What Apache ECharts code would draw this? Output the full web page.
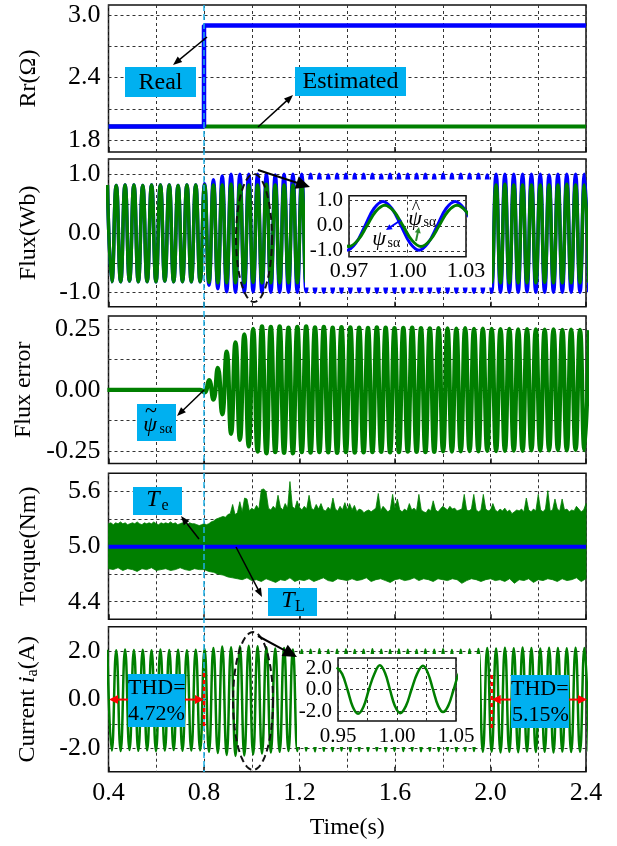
<!DOCTYPE html>
<html><head><meta charset="utf-8">
<script src="https://cdn.jsdelivr.net/npm/echarts@6/dist/echarts.min.js"></script>
<style>html,body{margin:0;padding:0;background:#fff}#c{width:617px;height:846px}</style>
</head><body><div id="c"></div>
<script>
// ---------------- DATA ----------------
const xTickLabels = [0.4, 0.8, 1.2, 1.6, 2.0, 2.4];
const rrGridVals = [1.8, 2.1, 2.4, 2.7, 3.0], rrLabels = [1.8, 2.4, 3.0];
const fluxGridVals = [-1, -0.5, 0, 0.5, 1], fluxLabels = [-1, 0, 1];
const errGridVals = [-0.25, -0.125, 0, 0.125, 0.25], errLabels = [-0.25, 0, 0.25];
const tqGridVals = [4.4, 4.7, 5.0, 5.3, 5.6], tqLabels = [4.4, 5.0, 5.6];
const curGridVals = [-2, -1, 0, 1, 2], curLabels = [-2, 0, 2];

// Rr panel (step change at 0.8 s)
const rrRealT = [0.4, 0.8, 0.8, 2.4];
const rrReal = [1.93, 1.93, 2.9, 2.9];
const rrEstT = [0.4, 2.4];
const rrEst = [1.93, 1.93];

// oscillating signals: value read at each half-period peak (time base below)
const waveT0 = 0.3954, waveHalf = 0.0185;
const fluxReal = [
 0.82,-0.82,0.81,-0.82,0.82,-0.81,0.82,-0.82,0.81,-0.82,
 0.82,-0.82,0.82,-0.81,0.82,-0.82,0.81,-0.82,0.82,-0.82,
 0.82,-0.82,0.84,-0.88,0.91,-0.94,0.97,-0.99,1.0,-1.0,
 1.0,-1.0,1.0,-0.99,1.0,-1.0,1.0,-1.0,0.99,-1.0,
 1.0,-1.0,1.0,-1.0,1.0,-0.99,1.0,-1.0,1.0,-1.0,
 0.99,-1.0,1.0,-1.0,1.0,-1.0,1.0,-0.99,1.0,-1.0,
 1.0,-1.0,0.99,-1.0,1.0,-1.0,1.0,-1.0,1.0,-0.99,
 1.0,-1.0,1.0,-1.0,0.99,-1.0,1.0,-1.0,1.0,-1.0,
 1.0,-0.99,1.0,-1.0,1.0,-1.0,0.99,-1.0,1.0,-1.0,
 1.0,-1.0,1.0,-1.0,1.0,-0.99,1.0,-1.0,1.0,-1.0,
 0.99,-1.0,1.0,-1.0,1.0,-1.0,1.0,-1.0,1.0,-1.0
];
const fluxEst = [
 0.82,-0.82,0.81,-0.82,0.82,-0.81,0.82,-0.82,0.81,-0.82,
 0.82,-0.82,0.82,-0.81,0.82,-0.82,0.81,-0.82,0.82,-0.82,
 0.82,-0.82,0.82,-0.83,0.82,-0.84,0.82,-0.84,0.83,-0.84,
 0.82,-0.84,0.82,-0.83,0.82,-0.84,0.83,-0.84,0.82,-0.84,
 0.82,-0.84,0.82,-0.84,0.83,-0.83,0.82,-0.84,0.82,-0.84,
 0.82,-0.83,0.82,-0.84,0.82,-0.84,0.83,-0.84,0.82,-0.84,
 0.82,-0.84,0.82,-0.83,0.82,-0.84,0.82,-0.84,0.83,-0.84,
 0.82,-0.84,0.82,-0.84,0.82,-0.83,0.82,-0.84,0.83,-0.84,
 0.82,-0.84,0.82,-0.84,0.82,-0.84,0.82,-0.83,0.82,-0.84,
 0.83,-0.84,0.82,-0.84,0.82,-0.84,0.82,-0.84,0.82,-0.83,
 0.82,-0.84,0.82,-0.84,0.83,-0.84,0.82,-0.84,0.82,-0.84
];
const fluxErr = [
 0,0,0,0,0,0,0,0,0,0,
 0,0,0,0,0,0,0,0,0,0,
 0,0,-0.01,0.04,-0.04,0.09,-0.10,0.157,-0.18,0.195,
 -0.205,0.228,-0.232,0.25,-0.253,0.26,-0.26,0.258,-0.255,0.26,
 -0.258,0.255,-0.26,0.258,-0.255,0.26,-0.257,0.256,-0.255,0.258,
 -0.256,0.255,-0.258,0.257,-0.255,0.256,-0.257,0.255,-0.256,0.254,
 -0.255,0.256,-0.254,0.255,-0.256,0.253,-0.255,0.254,-0.253,0.255,
 -0.254,0.253,-0.255,0.252,-0.254,0.253,-0.252,0.252,-0.253,0.251,
 -0.252,0.253,-0.251,0.25,-0.252,0.251,-0.25,0.25,-0.251,0.249,
 -0.25,0.25,-0.249,0.248,-0.25,0.249,-0.248,0.248,-0.249,0.247,
 -0.248,0.248,-0.247,0.246,-0.248,0.247,-0.246,0.246,-0.247,0.245
];
const current = [
 2.05,-2.10,2.03,-2.12,2.06,-2.08,2.04,-2.11,2.05,-2.09,
 2.03,-2.12,2.06,-2.10,2.04,-2.08,2.05,-2.11,2.03,-2.10,
 2.05,-2.09,2.08,-2.15,2.12,-2.20,2.18,-2.28,2.15,-2.32,
 2.20,-2.30,2.22,-2.25,2.20,-2.22,2.15,-2.18,2.10,-2.15,
 2.12,-2.12,2.06,-2.12,2.04,-2.10,2.05,-2.13,2.07,-2.11,
 2.04,-2.12,2.05,-2.10,2.06,-2.13,2.04,-2.11,2.05,-2.12,
 2.07,-2.10,2.05,-2.13,2.04,-2.11,2.06,-2.12,2.05,-2.10,
 2.04,-2.13,2.06,-2.11,2.05,-2.12,2.07,-2.10,2.04,-2.13,
 2.05,-2.11,2.06,-2.12,2.08,-2.15,2.12,-2.14,2.10,-2.18,
 2.13,-2.15,2.11,-2.17,2.14,-2.14,2.12,-2.16,2.10,-2.15,
 2.13,-2.18,2.12,-2.14,2.11,-2.16,2.13,-2.15,2.12,-2.14
];

// torque band: upper envelope every 0.01 s, lower envelope every 0.02 s
const tqT0 = 0.4, tqHiStep = 0.01, tqLoStep = 0.02;
const tqHi = [
 5.25,5.26,5.24,5.26,5.25,5.27,5.25,5.26,5.24,5.25,5.26,5.25,5.27,5.25,5.24,5.26,5.25,5.26,5.25,5.27,
 5.25,5.24,5.26,5.25,5.26,5.25,5.27,5.25,5.26,5.24,5.25,5.26,5.25,5.24,5.26,5.25,5.25,5.24,5.23,5.24,5.25,
 5.24,5.25,5.27,5.28,5.30,5.31,5.32,5.33,5.32,5.35,
 5.36,5.46,5.35,5.37,5.49,5.38,5.53,5.52,5.39,5.42,
 5.40,5.45,5.41,5.62,5.63,5.60,5.42,5.40,5.44,5.41,
 5.56,5.43,5.40,5.47,5.42,5.71,5.44,5.41,5.50,5.43,
 5.40,5.44,5.41,5.56,5.42,5.40,5.46,5.41,5.47,5.40,
 5.39,5.43,5.40,5.53,5.41,5.39,5.44,5.40,5.48,5.40,
 5.47,5.40,5.45,5.38,5.41,5.40,5.37,5.39,5.40,5.38,
 5.40,5.42,5.58,5.39,5.44,5.41,5.38,5.40,5.57,5.42,
 5.52,5.40,5.38,5.41,5.39,5.47,5.40,5.42,5.39,5.57,
 5.40,5.38,5.37,5.41,5.39,5.50,5.40,5.38,5.41,5.44,
 5.42,5.40,5.44,5.41,5.42,5.39,5.40,5.41,5.57,5.40,
 5.39,5.41,5.57,5.40,5.38,5.40,5.57,5.41,5.39,5.40,
 5.47,5.40,5.38,5.41,5.39,5.42,5.38,5.40,5.36,5.38,
 5.40,5.39,5.41,5.38,5.53,5.40,5.38,5.41,5.39,5.57,
 5.40,5.38,5.41,5.61,5.39,5.40,5.52,5.41,5.39,5.52,
 5.40,5.41,5.38,5.40,5.39,5.44,5.41,5.38,5.40,5.47
];
const tqLo = [
 4.76,4.75,4.77,4.74,4.76,4.75,4.73,4.76,4.75,4.77,4.74,4.75,4.76,4.74,4.75,4.77,4.75,4.74,4.76,4.75,4.75,
 4.73,4.72,4.70,4.69,4.67,4.66,4.65,4.64,4.66,4.63,
 4.64,4.62,4.65,4.63,4.61,4.64,4.63,4.66,4.62,4.64,
 4.63,4.65,4.62,4.64,4.66,4.63,4.62,4.65,4.64,4.63,
 4.65,4.63,4.64,4.66,4.62,4.64,4.65,4.63,4.61,4.64,
 4.65,4.63,4.64,4.66,4.63,4.65,4.64,4.62,4.65,4.64,
 4.63,4.65,4.64,4.60,4.63,4.65,4.64,4.62,4.64,4.65,
 4.63,4.64,4.62,4.65,4.60,4.64,4.63,4.65,4.61,4.64,
 4.63,4.65,4.64,4.62,4.65,4.63,4.64,4.66,4.62,4.65
];
const tqRefT = [0.4, 2.4], tqRef = [5.0, 5.0];

// inset: flux 0.97-1.03 s
const insetFluxXTicks = [0.97, 1.0, 1.03], insetFluxYTicks = [-1, 0, 1];
const insetRealT = [0.9643, 0.9689, 0.9735, 0.9782, 0.9828, 0.9874, 0.9920, 0.9967, 1.0013, 1.0059, 1.0105, 1.0152, 1.0198, 1.0244, 1.0290, 1.0337];
const insetReal =  [-0.69, -0.97, -0.69, 0, 0.69, 0.97, 0.69, 0, -0.69, -0.97, -0.69, 0, 0.69, 0.97, 0.69, 0];
const insetEstT = [0.9653, 0.9699, 0.9745, 0.9792, 0.9838, 0.9884, 0.9930, 0.9977, 1.0023, 1.0069, 1.0115, 1.0162, 1.0208, 1.0254, 1.0300, 1.0347];
const insetEst =  [-0.58, -0.82, -0.58, 0, 0.58, 0.82, 0.58, 0, -0.58, -0.82, -0.58, 0, 0.58, 0.82, 0.58, 0];
// inset: current 0.95-1.05 s
const insetCurXGrid = [0.95, 0.975, 1.0, 1.025, 1.05], insetCurXTicks = [0.95, 1.0, 1.05], insetCurYTicks = [-2, 0, 2];
const insetCurT = [0.949, 0.9535, 0.958, 0.9625, 0.967, 0.9716, 0.9762, 0.9808, 0.9855, 0.9898, 0.994, 0.9983, 1.0026, 1.0075, 1.0123, 1.0172, 1.022, 1.0263, 1.0305, 1.0348, 1.039, 1.0435, 1.048, 1.0525, 1.057];
const insetCur =  [2.05, 1.45, 0, -1.6, -2.25, -1.6, 0, 1.45, 2.25, 1.55, 0, -1.55, -2.2, -1.55, 0, 1.5, 2.2, 1.5, 0, -1.5, -2.1, -1.5, 0, 1.5, 2.1];

// ---------------- CHART ----------------
const FONT = '"Liberation Serif","Times New Roman",Times,serif';
const BLUE = '#0000ff', GREEN = '#007f00', CYAN = '#1fb0e6', BOX = '#00b0f0';
const pair = (ts, vs) => vs.map((v, i) => [ts[i], v]);
const wave = vs => vs.map((v, k) => [waveT0 + k * waveHalf, v]);

const panels = [
  {top: 5, bottom: 152, min: 1.685, max: 3.096, g: rrGridVals, l: rrLabels, dec: 1, name: 'Rr(Ω)'},
  {top: 159, bottom: 306.7, min: -1.245, max: 1.26, g: fluxGridVals, l: fluxLabels, dec: 1, name: 'Flux(Wb)'},
  {top: 316, bottom: 463.5, min: -0.302, max: 0.303, g: errGridVals, l: errLabels, dec: 2, name: 'Flux error'},
  {top: 473.3, bottom: 619.3, min: 4.208, max: 5.80, g: tqGridVals, l: tqLabels, dec: 1, name: 'Torque(Nm)'},
  {top: 626.7, bottom: 771.7, min: -2.97, max: 3.0, g: curGridVals, l: curLabels, dec: 1,
   name: '{n|Current }{i|i}{s|a}{n|(A)}'}
];
const dashed = {type: [3, 3], color: '#333', width: 1};
const grids = [], xAxes = [], yAxes = [];
panels.forEach((p, i) => {
  grids.push({left: 108.5, top: p.top, width: 477.5, height: p.bottom - p.top, show: true,
    borderColor: '#111', borderWidth: 1.5, backgroundColor: 'transparent'});
  xAxes.push({gridIndex: i, type: 'value', position: 'bottom', min: 0.4, max: 2.4, interval: 0.2,
    axisLine: {show: false}, axisTick: {show: false},
    axisLabel: {show: i === 4, customValues: xTickLabels, formatter: v => v.toFixed(1),
      fontSize: 26, fontFamily: FONT, color: '#000', margin: 8},
    splitLine: {show: true, lineStyle: dashed},
    name: i === 4 ? 'Time(s)' : '', nameLocation: 'middle', nameGap: 44,
    nameTextStyle: {fontSize: 24, fontFamily: FONT, color: '#000'}});
  yAxes.push({gridIndex: i, type: 'value', position: 'left', min: p.min, max: p.max,
    axisLine: {show: false}, axisTick: {show: false, customValues: p.g},
    axisLabel: {customValues: p.l, formatter: v => v.toFixed(p.dec), fontSize: 26, fontFamily: FONT,
      color: '#000', margin: 8},
    splitLine: {show: true, lineStyle: dashed},
    name: p.name, nameLocation: 'middle', nameGap: 68,
    nameTextStyle: {fontSize: 24, fontFamily: FONT, color: '#000',
      rich: {n: {fontSize: 24, fontFamily: FONT, color: '#000'},
             i: {fontSize: 24, fontFamily: FONT, fontStyle: 'italic', color: '#000'},
             s: {fontSize: 16, fontFamily: FONT, color: '#000', verticalAlign: 'bottom', padding: [10, 0, 0, 0]}}}});
});
panels.forEach((p, i) => {
  xAxes.push({gridIndex: i, type: 'value', position: 'bottom', min: 0.4, max: 2.4, interval: 0.4,
    axisLine: {show: false}, axisTick: {show: true, inside: true, length: 5, lineStyle: {color: '#111', width: 1.5}},
    axisLabel: {show: false}, splitLine: {show: false}});
});
// insets
grids.push({left: 349, top: 195.7, width: 117, height: 61, show: true, borderColor: '#111', borderWidth: 1.5,
  backgroundColor: '#fff', z: 101});
grids.push({left: 338, top: 658, width: 118, height: 63, show: true, borderColor: '#111', borderWidth: 1.5,
  backgroundColor: '#fff', z: 101});
xAxes.push({gridIndex: 5, type: 'value', position: 'bottom', min: 0.97, max: 1.03, z: 101,
  axisLine: {show: false}, axisTick: {show: false, customValues: insetFluxXTicks},
  axisLabel: {customValues: insetFluxXTicks, formatter: v => v.toFixed(2), fontSize: 22, fontFamily: FONT, color: '#000', margin: 4},
  splitLine: {show: true, lineStyle: dashed}});
xAxes.push({gridIndex: 6, type: 'value', position: 'bottom', min: 0.95, max: 1.05, z: 101,
  axisLine: {show: false}, axisTick: {show: false, customValues: insetCurXGrid},
  axisLabel: {customValues: insetCurXTicks, formatter: v => v.toFixed(2), fontSize: 21, fontFamily: FONT, color: '#000', margin: 5},
  splitLine: {show: true, lineStyle: dashed}});
yAxes.push({gridIndex: 5, type: 'value', position: 'left', min: -1.23, max: 1.2, z: 101,
  axisLine: {show: false}, axisTick: {show: false, customValues: insetFluxYTicks},
  axisLabel: {customValues: insetFluxYTicks, formatter: v => v.toFixed(1), fontSize: 21, fontFamily: FONT, color: '#000', margin: 6},
  splitLine: {show: true, lineStyle: dashed}});
yAxes.push({gridIndex: 6, type: 'value', position: 'left', min: -2.93, max: 2.93, z: 101,
  axisLine: {show: false}, axisTick: {show: false, customValues: insetCurYTicks},
  axisLabel: {customValues: insetCurYTicks, formatter: v => v.toFixed(1), fontSize: 21, fontFamily: FONT, color: '#000', margin: 6},
  splitLine: {show: true, lineStyle: dashed}});

const line = (xi, yi, data, color, width, smooth, z) => ({type: 'line', xAxisIndex: xi, yAxisIndex: yi, data,
  symbol: 'none', showSymbol: false, smooth: smooth, lineStyle: {color, width}, silent: true, z: z || 2, animation: false});

const series = [
  line(0, 0, pair(rrEstT, rrEst), GREEN, 4, false),
  line(0, 0, pair(rrRealT, rrReal), BLUE, 4.5, false, 3),
  line(1, 1, wave(fluxReal), BLUE, 3.5, 0.5),
  line(1, 1, wave(fluxEst), GREEN, 3.5, 0.5, 3),
  line(2, 2, wave(fluxErr), GREEN, 4.3, 0.5),
  {type: 'custom', xAxisIndex: 3, yAxisIndex: 3, data: [[1.4, 5.0]], silent: true, animation: false, z: 2,
   renderItem: (params, api) => {
     const pts = [];
     tqHi.forEach((v, j) => pts.push(api.coord([tqT0 + j * tqHiStep, v])));
     for (let i = tqLo.length - 1; i >= 0; i--) pts.push(api.coord([tqT0 + i * tqLoStep, tqLo[i]]));
     return {type: 'polygon', shape: {points: pts}, style: {fill: GREEN, stroke: GREEN, lineWidth: 0.8}};
   }},
  line(3, 3, pair(tqRefT, tqRef), BLUE, 4, false, 3),
  line(4, 4, wave(current), GREEN, 2.5, 0.5),
  line(10, 5, pair(insetRealT, insetReal), BLUE, 3, 0.4, 102),
  line(10, 5, pair(insetEstT, insetEst), GREEN, 3, 0.4, 103),
  line(11, 6, pair(insetCurT, insetCur), GREEN, 2.5, 0.4, 102)
];

const chart = echarts.init(document.getElementById('c'), null, {renderer: 'canvas'});
chart.setOption({animation: false, backgroundColor: '#fff', grid: grids, xAxis: xAxes, yAxis: yAxes, series});

// ---------------- ANNOTATIONS ----------------
function arrow(x1, y1, x2, y2, color, w, hl, hw, z) {
  const dx = x2 - x1, dy = y2 - y1, L = Math.hypot(dx, dy), ux = dx / L, uy = dy / L;
  const bx = x2 - ux * hl, by = y2 - uy * hl, px = -uy * hw / 2, py = ux * hw / 2;
  return [
    {type: 'line', shape: {x1, y1, x2: bx + ux, y2: by + uy}, style: {stroke: color, lineWidth: w}, z},
    {type: 'polygon', shape: {points: [[x2, y2], [bx + px, by + py], [bx - px, by - py]]}, style: {fill: color}, z}
  ];
}
function ellipse(cx, cy, rx, ry, z) {
  const pts = [];
  for (let i = 0; i < 60; i++) { const a = i / 60 * Math.PI * 2; pts.push([cx + rx * Math.cos(a), cy + ry * Math.sin(a)]); }
  return {type: 'polygon', shape: {points: pts}, style: {fill: 'none', stroke: '#111', lineWidth: 2, lineDash: [7, 4]}, z};
}
function box(x, y, w, h, z) { return {type: 'rect', shape: {x, y, width: w, height: h}, style: {fill: BOX}, z}; }
function txt(x, y, s, size, opts) {
  return {type: 'text', x, y, z: 121, style: Object.assign({text: s, fontSize: size, fontFamily: FONT,
    fill: '#000', align: 'center', verticalAlign: 'middle'}, (opts && opts.style) || {})};
}
const it = {style: {fontStyle: 'italic'}};
const x08 = chart.convertToPixel({xAxisIndex: 0}, 0.8);
const xR = chart.convertToPixel({xAxisIndex: 4}, 2.005);
const y0 = chart.convertToPixel({yAxisIndex: 4}, 0);
let g = [];
// white backgrounds for insets
g.push({type: 'rect', shape: {x: 305, y: 179.5, width: 187, height: 108}, style: {fill: '#fff'}, z: 100});
g.push({type: 'rect', shape: {x: 297, y: 654, width: 183, height: 93}, style: {fill: '#fff'}, z: 100});
// cyan dashed line at 0.8 s
g.push({type: 'line', shape: {x1: x08, y1: 5, x2: x08, y2: 772}, style: {stroke: CYAN, lineWidth: 1.5, lineDash: [6, 3]}, z: 90});
// Rr labels
g.push(box(125, 67, 71, 30, 120), txt(160.5, 82.5, 'Real', 24));
g = g.concat(arrow(207, 37, 173, 65, '#000', 1.5, 9, 7, 110));
g.push(box(295, 67, 111, 29, 120), txt(350.5, 82, 'Estimated', 24));
g = g.concat(arrow(258, 127, 293, 95, '#000', 1.5, 9, 7, 110));
// flux ellipse & arrow
g.push(ellipse(254, 238, 18, 64, 110));
g = g.concat(arrow(258, 170, 310, 187, '#000', 2, 14, 13, 110));
// flux inset labels
g.push(txt(415, 219, 'ψ', 22, it), txt(416, 209, '^', 18), txt(430, 222, 'sα', 14));
g = g.concat(arrow(416, 241, 419, 227, '#2e8b2e', 2, 6, 6, 121));
g.push(txt(379, 239, 'ψ', 22, it), txt(394, 243, 'sα', 14));
g = g.concat(arrow(401, 220, 386, 230, BLUE, 2, 6, 6, 121));
// flux error label
g.push(box(137, 404, 39, 37, 120), txt(150, 425, 'ψ', 22, it), txt(151, 411, '~', 22), txt(166, 429, 'sα', 14));
g = g.concat(arrow(204, 390, 177, 416, '#000', 1.5, 9, 7, 110));
// torque labels
g.push(box(133, 487, 49, 28, 120), txt(153, 500, 'T', 24, it), txt(165, 506, 'e', 16));
g = g.concat(arrow(199, 539, 181, 516, '#000', 1.5, 9, 7, 110));
g.push(box(268, 588, 49, 28, 120), txt(288, 601, 'T', 24, it), txt(300, 607, 'L', 16));
g = g.concat(arrow(236, 547, 262, 597, '#000', 1.5, 9, 7, 110));
// current ellipse & arrow
g.push(ellipse(253, 701, 20, 69, 110));
g = g.concat(arrow(258, 636, 297, 657, '#000', 2, 14, 13, 110));
// THD annotations
g.push({type: 'line', shape: {x1: x08, y1: 673, x2: x08, y2: 728}, style: {stroke: '#ff0000', lineWidth: 2.5, lineDash: [4, 3]}, z: 112});
g.push({type: 'line', shape: {x1: xR, y1: 675, x2: xR, y2: 728}, style: {stroke: '#ff0000', lineWidth: 2.5, lineDash: [4, 3]}, z: 112});
g = g.concat(arrow(128, y0, 109, y0, '#ff0000', 2, 9, 9, 112), arrow(185, y0, x08, y0, '#ff0000', 2, 9, 9, 112));
g = g.concat(arrow(511, y0, xR, y0, '#ff0000', 2, 9, 9, 112), arrow(569, y0, 587, y0, '#ff0000', 2, 9, 9, 112));
g.push(box(128, 674, 57, 53, 120));
g.push(txt(128, 688, 'THD=', 22, {style: {align: 'left'}}), txt(128, 714, '4.72%', 22, {style: {align: 'left'}}));
g.push(box(511, 675, 58, 53, 120));
g.push(txt(511, 689, 'THD=', 22, {style: {align: 'left'}}), txt(512, 715, '5.15%', 22, {style: {align: 'left'}}));
chart.setOption({graphic: {elements: g}});
</script></body></html>
